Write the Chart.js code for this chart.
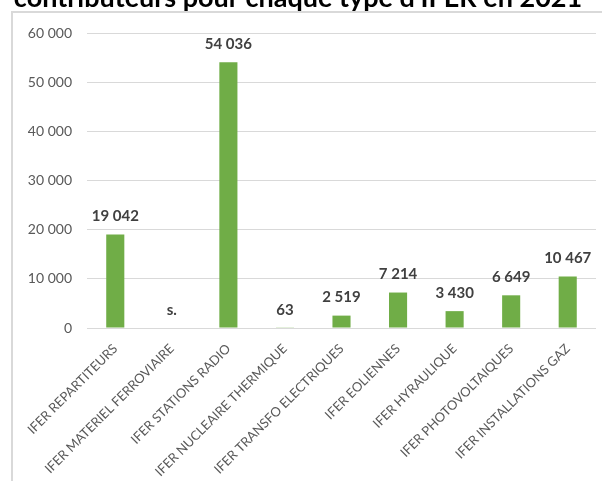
<!DOCTYPE html>
<html>
<head>
<meta charset="utf-8">
<script src="https://cdn.jsdelivr.net/npm/chart.js@4/dist/chart.umd.min.js"></script>
<style>
 body { margin: 0; background: #fff; }
 canvas { display: block; }
</style>
</head>
<body>
<canvas id="ifer_chart" width="602" height="481"></canvas>
<script>
var categories = [
 'IFER REPARTITEURS',
 'IFER MATERIEL FERROVIAIRE',
 'IFER STATIONS RADIO',
 'IFER NUCLEAIRE THERMIQUE',
 'IFER TRANSFO ELECTRIQUES',
 'IFER EOLIENNES',
 'IFER HYRAULIQUE',
 'IFER PHOTOVOLTAIQUES',
 'IFER INSTALLATIONS GAZ'
];
// null = secret statistique ("s.")
var contributeurs = [19042, null, 54036, 63, 2519, 7214, 3430, 6649, 10467];
var yTicks = [0, 10000, 20000, 30000, 40000, 50000, 60000];
var titleText = "contributeurs pour chaque type d'IFER en 2021";

function fmt(v) {
 if (v === null) return 's.';
 return String(v).replace(/\B(?=(\d{3})+(?!\d))/g, ' ');
}

// frame + title cut at the top
var framePlugin = {
 id: 'frame',
 beforeDraw: function(chart) {
  var ctx = chart.ctx;
  ctx.save();
  ctx.strokeStyle = '#d9d9d9';
  ctx.lineWidth = 2;
  ctx.strokeRect(12, 12, 700, 600);
  ctx.fillStyle = '#000';
  ctx.font = 'bold 27px Lato';
  ctx.textAlign = 'center';
  ctx.textBaseline = 'alphabetic';
  ctx.fillText(titleText, 298, 7);
  ctx.restore();
 }
};

var valueLabels = {
 id: 'valueLabels',
 afterDatasetsDraw: function(chart) {
  var ctx = chart.ctx;
  var meta = chart.getDatasetMeta(0);
  var yScale = chart.scales.y;
  ctx.save();
  ctx.fillStyle = '#404040';
  ctx.font = 'bold 15px Lato';
  ctx.textAlign = 'center';
  ctx.textBaseline = 'middle';
  meta.data.forEach(function(bar, i) {
   var v = contributeurs[i];
   var top = yScale.getPixelForValue(v === null ? 0 : v);
   ctx.fillText(fmt(v), bar.x, top - 18);
  });
  ctx.restore();
 }
};

var config = {
 type: 'bar',
 data: {
  labels: categories,
  datasets: [{
   data: contributeurs,
   backgroundColor: '#70ad47',
   barPercentage: 0.32,
   categoryPercentage: 1
  }]
 },
 options: {
  responsive: false,
  animation: false,
  layout: { padding: { left: 12, right: 6, top: 33, bottom: 0 } },
  plugins: {
   legend: { display: false },
   tooltip: { enabled: false }
  },
  scales: {
   x: {
    grid: { display: false },
    border: { display: false },
    ticks: {
     autoSkip: false,
     minRotation: 45,
     maxRotation: 45,
     padding: 5,
     color: '#595959',
     font: { family: 'Lato', size: 13 }
    },
    afterFit: function(axis) { axis.height = 481 - 328; }
   },
   y: {
    min: 0,
    max: 60000,
    afterBuildTicks: function(axis) {
     axis.ticks = yTicks.map(function(v) { return { value: v }; });
    },
    grid: { color: '#d9d9d9', drawTicks: false },
    border: { display: false },
    ticks: {
     padding: 15,
     color: '#595959',
     font: { family: 'Lato', size: 14 },
     callback: function(v) { return fmt(v); }
    },
    afterFit: function(axis) { axis.width = 75; }
   }
  }
 },
 plugins: [framePlugin, valueLabels]
};

window.onload = function() {
 var ctx = document.getElementById('ifer_chart').getContext('2d');
 window.iferChart = new Chart(ctx, config);
};
</script>
</body>
</html>
